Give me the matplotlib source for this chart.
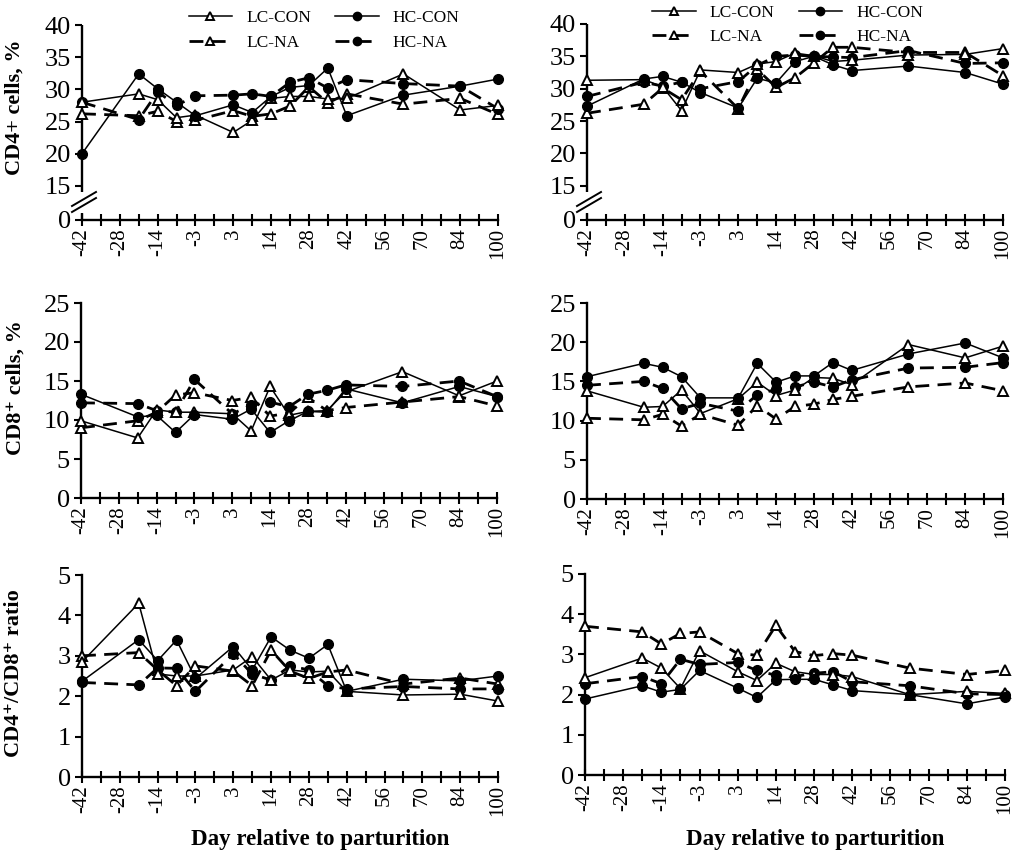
import numpy as np
import matplotlib
matplotlib.use('Agg')
import matplotlib.pyplot as plt
from matplotlib.lines import Line2D

plt.rcParams['font.family'] = ['Liberation Serif', 'DejaVu Serif']

# ---------------- data ----------------
axis_days = [-42, -35, -28, -21, -14, -7, -3, 0, 3, 7, 14, 21, 28, 35, 42,
             49, 56, 63, 70, 77, 84, 91, 100]
labeled_days = [-42, -28, -14, -3, 3, 14, 28, 42, 56, 70, 84, 100]
days = [-42, -21, -14, -7, -3, 3, 7, 14, 21, 28, 35, 42, 63, 84, 100]
series_names = ['LC-CON', 'HC-CON', 'LC-NA', 'HC-NA']

# CD4+ cells, % (left panel)
cd4_left_lccon = [28.0, 29.3, 28.4, 25.6, 26.0, 23.3, 25.2, 28.6, 28.9, 28.9, 28.5, 28.6, 32.4, 26.8, 27.5]
cd4_left_hccon = [20.0, 32.4, 30.1, 28.0, 25.9, 27.6, 26.4, 28.9, 30.3, 30.6, 33.3, 25.9, 29.1, 30.5, 31.6]
cd4_left_lcna = [26.2, 25.9, 26.6, 25.0, 25.2, 26.7, 25.8, 26.2, 27.4, 30.4, 27.9, 29.3, 27.7, 28.6, 26.1]
cd4_left_hcna = [28.0, 25.3, 29.6, 27.5, 29.0, 29.1, 29.3, 28.9, 31.1, 31.8, 30.2, 31.5, 30.9, 30.5, 27.0]

# CD4+ cells, % (right panel)
cd4_right_lccon = [31.3, 31.4, 30.3, 26.6, 32.9, 32.5, 33.8, 34.2, 35.5, 35.1, 34.2, 34.4, 35.2, 35.3, 36.2]
cd4_right_hccon = [27.3, 31.5, 31.9, 31.0, 29.4, 27.0, 31.6, 30.9, 34.2, 35.0, 33.7, 32.8, 33.5, 32.5, 30.7]
cd4_right_lcna = [26.2, 27.6, 30.1, 28.3, 32.7, 26.9, 33.0, 30.2, 31.7, 34.0, 36.4, 36.4, 35.6, 35.6, 32.0]
cd4_right_hcna = [28.8, 31.0, 30.4, 31.0, 30.0, 31.1, 33.6, 35.0, 35.2, 35.0, 34.9, 34.8, 35.9, 33.9, 34.0]

# CD8+ cells, % (left panel)
cd8_left_lccon = [9.9, 7.7, 11.3, 11.0, 11.0, 10.8, 8.6, 14.3, 10.6, 11.1, 11.2, 13.6, 16.2, 13.1, 15.0]
cd8_left_hccon = [13.3, 10.4, 10.6, 8.4, 10.7, 10.1, 11.4, 8.4, 9.9, 11.1, 11.0, 14.0, 12.2, 14.3, 13.0]
cd8_left_lcna = [9.0, 9.9, 11.0, 13.2, 13.5, 12.5, 12.9, 10.5, 10.9, 12.9, 11.2, 11.6, 12.3, 13.0, 11.8]
cd8_left_hcna = [12.2, 12.1, 11.2, 11.0, 15.2, 10.8, 11.9, 12.3, 11.7, 13.3, 13.8, 14.5, 14.3, 15.0, 13.0]

# CD8+ cells, % (right panel)
cd8_right_lccon = [13.8, 11.7, 11.8, 13.9, 10.9, 12.8, 14.9, 13.2, 13.9, 15.5, 15.4, 14.6, 19.7, 18.0, 19.5]
cd8_right_hccon = [15.6, 17.3, 16.8, 15.6, 12.9, 12.9, 17.3, 14.9, 15.7, 15.7, 17.4, 16.4, 18.5, 19.9, 18.0]
cd8_right_lcna = [10.3, 10.1, 10.8, 9.3, 10.8, 9.4, 11.9, 10.2, 11.8, 12.1, 12.7, 13.1, 14.3, 14.8, 13.8]
cd8_right_hcna = [14.5, 15.0, 14.1, 11.5, 12.2, 11.2, 13.3, 14.0, 14.3, 14.9, 14.3, 15.2, 16.7, 16.8, 17.4]

# CD4+/CD8+ ratio (left panel)
ratio_left_lccon = [2.85, 4.30, 2.55, 2.50, 2.50, 2.65, 2.98, 2.40, 2.65, 2.60, 2.62, 2.12, 2.03, 2.05, 1.88]
ratio_left_hccon = [2.37, 3.40, 2.88, 3.39, 2.44, 3.23, 2.65, 3.47, 3.14, 2.94, 3.28, 2.12, 2.42, 2.38, 2.50]
ratio_left_lcna = [3.00, 3.08, 2.65, 2.26, 2.75, 2.62, 2.26, 3.14, 2.62, 2.44, 2.60, 2.65, 2.30, 2.45, 2.30]
ratio_left_hcna = [2.34, 2.28, 2.70, 2.69, 2.12, 3.05, 2.55, 2.40, 2.75, 2.65, 2.26, 2.18, 2.24, 2.18, 2.18]

# CD4+/CD8+ ratio (right panel)
ratio_right_lccon = [2.42, 2.91, 2.66, 2.15, 3.09, 2.57, 2.35, 2.78, 2.57, 2.50, 2.50, 2.45, 2.00, 2.08, 2.03]
ratio_right_hccon = [1.89, 2.22, 2.06, 2.13, 2.60, 2.16, 1.93, 2.37, 2.38, 2.38, 2.24, 2.10, 2.00, 1.77, 1.94]
ratio_right_lcna = [3.70, 3.56, 3.26, 3.52, 3.56, 3.02, 2.98, 3.72, 3.07, 2.97, 3.02, 2.98, 2.66, 2.50, 2.60]
ratio_right_hcna = [2.27, 2.45, 2.27, 2.88, 2.75, 2.80, 2.60, 2.48, 2.45, 2.53, 2.57, 2.32, 2.22, 2.02, 2.00]

# ---------------- figure ----------------
W, H = 1024, 859
fig = plt.figure(figsize=(W / 100, H / 100), dpi=100)

xpos = [axis_days.index(d) for d in days]
tick_labels = [str(d) if d in labeled_days else '' for d in axis_days]

styles = {
    'LC-CON': dict(ls='-', lw=1.1, marker='^', mfc='white', ms=7, mew=1.4),
    'HC-CON': dict(ls='-', lw=1.1, marker='o', mfc='black', ms=7, mew=1.0),
    'LC-NA': dict(ls=(0, (5, 3)), lw=2.0, marker='^', mfc='white', ms=7, mew=1.4),
    'HC-NA': dict(ls=(0, (5, 3)), lw=2.0, marker='o', mfc='black', ms=7, mew=1.0),
}

BREAK = 5.3


def fwd(v):
    v = np.asarray(v, dtype=float)
    return np.where(v >= 15, BREAK + (v - 15), v * BREAK / 15)


def inv(u):
    u = np.asarray(u, dtype=float)
    return np.where(u >= BREAK, u - BREAK + 15, u * 15 / BREAK)


def add_ax(l, r, t, b):
    return fig.add_axes([l / W, 1 - b / H, (r - l) / W, (b - t) / H])


def setup(ax, ymax, yticks, broken=False):
    ax.set_xlim(0, len(axis_days) - 1)
    if broken:
        ax.set_yscale('function', functions=(fwd, inv))
    ax.set_ylim(0, ymax)
    ax.set_yticks(yticks)
    ax.set_yticklabels([str(t) for t in yticks])
    ax.yaxis.set_minor_locator(matplotlib.ticker.NullLocator())
    ax.set_xticks(range(len(axis_days)))
    ax.set_xticklabels(tick_labels, rotation=90)
    for s in ['top', 'right']:
        ax.spines[s].set_visible(False)
    for s in ['left', 'bottom']:
        ax.spines[s].set_linewidth(1.7)
    ax.tick_params(axis='y', direction='out', length=5, width=1.5, pad=3, labelsize=19)
    ax.tick_params(axis='x', direction='inout', length=8, width=1.5, pad=2, labelsize=15)
    if broken:
        ax.spines['left'].set_visible(False)
        h_px = ax.get_position().height * H
        w_px = ax.get_position().width * W
        kw = dict(transform=ax.transAxes, color='k', lw=1.7, clip_on=False, solid_capstyle='butt')
        ax.plot([0, 0], [28 / h_px, 1], **kw)
        ax.plot([0, 0], [0, 7 / h_px], **kw)
        yc = 18 / h_px
        for off in (-3.0, 3.0):
            ax.plot([-10 / w_px, 14 / w_px],
                    [yc + (off - 7) / h_px, yc + (off + 7) / h_px],
                    transform=ax.transAxes, color='k', lw=1.4, clip_on=False)


def draw(ax, lccon, hccon, lcna, hcna):
    for name, vals in [('LC-NA', lcna), ('HC-NA', hcna), ('LC-CON', lccon), ('HC-CON', hccon)]:
        ax.plot(xpos, vals, color='black', mec='black', clip_on=False, zorder=3,
                **styles[name])


def legend(ax, cx, cy):
    handles = [Line2D([], [], color='black', mec='black', **dict(styles[n], ms=6))
               for n in ['LC-CON', 'LC-NA', 'HC-CON', 'HC-NA']]
    ax.legend(handles, ['LC-CON', 'LC-NA', 'HC-CON', 'HC-NA'], ncol=2, loc='center',
              bbox_to_anchor=(cx, cy), frameon=False, fontsize=12.5, handlelength=2.5,
              handletextpad=0.8, columnspacing=1.4, labelspacing=0.5, borderpad=0)


ax1 = add_ax(82, 498, 25, 220)
setup(ax1, 40, [0, 15, 20, 25, 30, 35, 40], broken=True)
draw(ax1, cd4_left_lccon, cd4_left_hccon, cd4_left_lcna, cd4_left_hcna)
legend(ax1, 0.582, 0.972)

ax2 = add_ax(587, 1003, 24, 220)
setup(ax2, 40, [0, 15, 20, 25, 30, 35, 40], broken=True)
draw(ax2, cd4_right_lccon, cd4_right_hccon, cd4_right_lcna, cd4_right_hcna)
legend(ax2, 0.482, 0.995)

ax3 = add_ax(81, 497, 303, 498)
setup(ax3, 25, [0, 5, 10, 15, 20, 25])
draw(ax3, cd8_left_lccon, cd8_left_hccon, cd8_left_lcna, cd8_left_hcna)

ax4 = add_ax(587, 1003, 303, 499)
setup(ax4, 25, [0, 5, 10, 15, 20, 25])
draw(ax4, cd8_right_lccon, cd8_right_hccon, cd8_right_lcna, cd8_right_hcna)

ax5 = add_ax(82, 498, 575, 777)
setup(ax5, 5, [0, 1, 2, 3, 4, 5])
draw(ax5, ratio_left_lccon, ratio_left_hccon, ratio_left_lcna, ratio_left_hcna)

ax6 = add_ax(585, 1005, 574, 775)
setup(ax6, 5, [0, 1, 2, 3, 4, 5])
draw(ax6, ratio_right_lccon, ratio_right_hccon, ratio_right_lcna, ratio_right_hcna)

lab = dict(rotation=90, ha='center', va='center', fontweight='bold', fontsize=16)
fig.text(15 / W, 1 - 107 / H, 'CD4+ cells, %', **lab)
fig.text(16 / W, 1 - 388 / H, 'CD8\u207a cells, %', **lab)
fig.text(14 / W, 1 - 673 / H, 'CD4\u207a/CD8\u207a ratio', **lab)

xl = dict(ha='center', va='center', fontweight='bold', fontsize=16.5)
fig.text(320 / W, 1 - 840 / H, 'Day relative to parturition', **xl)
fig.text(815 / W, 1 - 840 / H, 'Day relative to parturition', **xl)

fig.savefig('out.png', dpi=100)
